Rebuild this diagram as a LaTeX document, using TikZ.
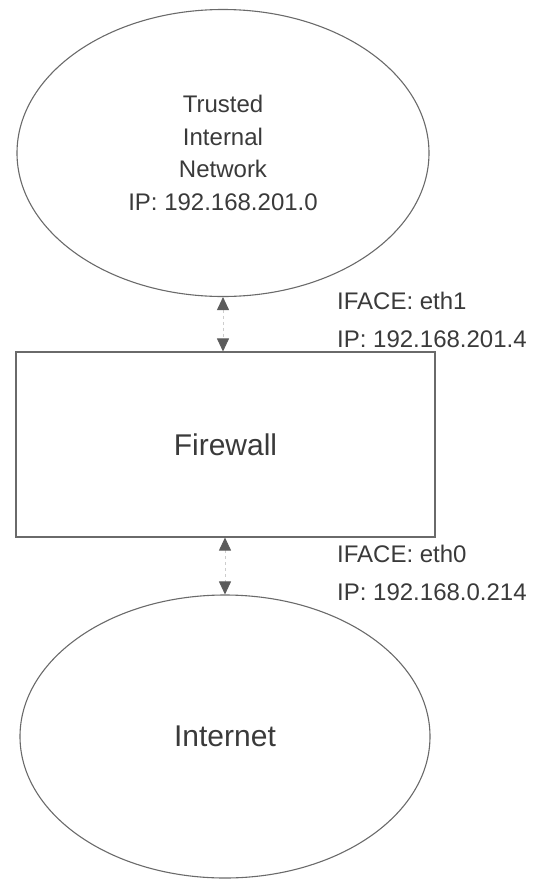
\documentclass[tikz,border=0pt]{standalone}
\usepackage{fontspec}
\setmainfont{Liberation Sans}
\usepackage{xcolor}
\usepackage{tikz}
\usetikzlibrary{shapes.geometric, arrows.meta, positioning, calc}
\definecolor{edgegray}{HTML}{6A6A6A}
\definecolor{textgray}{HTML}{3A3A3A}
\definecolor{tipgray}{HTML}{5C5C5C}
\definecolor{shaftgray}{HTML}{CDCDCD}
\tikzset{
  netcloud/.style={ellipse, draw=edgegray, line width=1.1pt, text=textgray, align=center},
  fwbox/.style={rectangle, draw=edgegray, line width=1.1pt, text=textgray},
  ifacelabel/.style={text=textgray, align=left, inner sep=0pt, anchor=west,
    font=\fontsize{24}{38}\selectfont},
  link/.style={draw=shaftgray, line width=0.9pt, dashed,
    {Triangle[length=13pt,width=12pt,color=tipgray]}-{Triangle[length=13pt,width=12pt,color=tipgray]}}
}
\begin{document}
\begin{tikzpicture}[x=1pt,y=-1pt]
    \useasboundingbox (0,0) rectangle (550,879);
    % Trusted network
    \node[netcloud, minimum width=412pt, minimum height=287pt,
      font=\fontsize{24}{32.5}\selectfont] (trusted) at (223,153)
      {Trusted\\Internal\\Network\\IP: 192.168.201.0};
    % Firewall
    \node[fwbox, minimum width=419pt, minimum height=185pt,
      font=\fontsize{30}{36}\selectfont] (firewall) at (225.5,444.5) {Firewall};
    % Internet
    \node[netcloud, minimum width=410pt, minimum height=283pt,
      font=\fontsize{30}{36}\selectfont] (internet) at (225,736.5) {Internet};
    % Links
    \draw[link] (trusted.south) -- (trusted.south |- firewall.north);
    \draw[link] (firewall.south -| internet.north) -- (internet.north);
    % Interfaces
    \node[ifacelabel] (ethone) at (337,320) {IFACE: eth1\\IP: 192.168.201.4};
    \node[ifacelabel] (ethzero) at (337,573) {IFACE: eth0\\IP: 192.168.0.214};
\end{tikzpicture}
\end{document}
